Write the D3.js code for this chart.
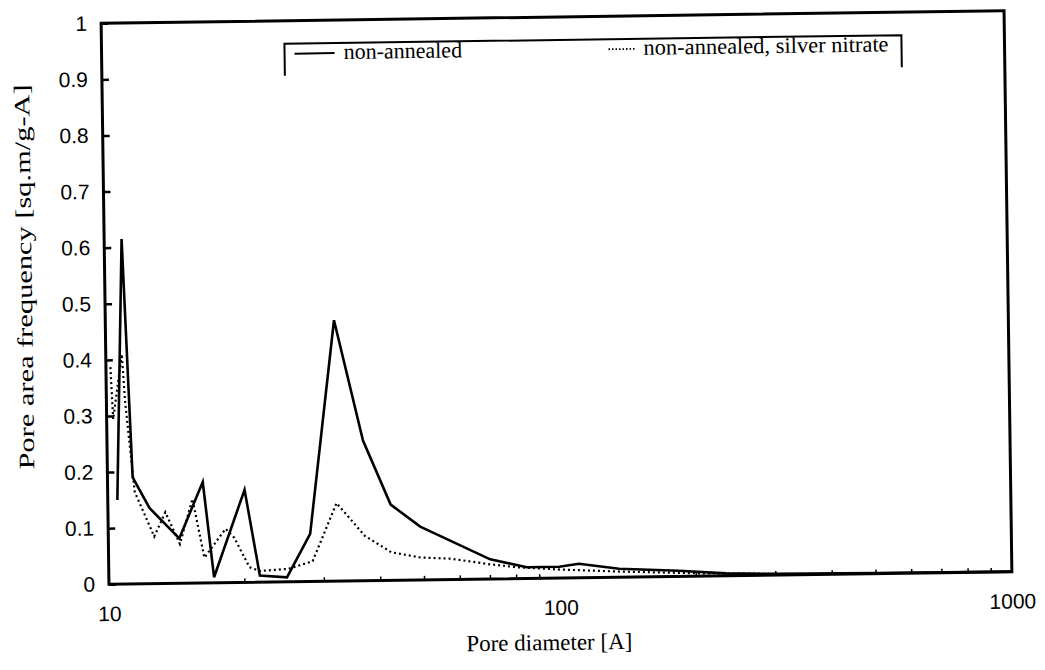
<!DOCTYPE html>
<html>
<head>
<meta charset="utf-8">
<script src="https://cdn.jsdelivr.net/npm/d3@7/dist/d3.min.js"></script>
<style>
  html, body { margin: 0; padding: 0; background: #fff; }
  svg { display: block; }
</style>
</head>
<body>
<svg id="chart" width="1045" height="670"></svg>
<script>
// Pore area frequency vs pore diameter (log axis)
const diamAnnealed = [10.5, 10.93, 11.37, 12.36, 14.36, 16.25, 17.1, 20.1, 21.6, 24.8, 28.0, 32.1, 36.9, 42.3, 49.1, 70, 84.3, 99.5, 110, 135, 183, 233, 300, 500, 1000];
const freqAnnealed = [0.15, 0.615, 0.19, 0.135, 0.08, 0.18, 0.01, 0.165, 0.012, 0.008, 0.085, 0.465, 0.25, 0.135, 0.095, 0.035, 0.02, 0.02, 0.025, 0.015, 0.01, 0.004, 0.002, 0.001, 0.0];

const diamSilver = [10.23, 10.34, 10.85, 11.0, 11.48, 12.64, 13.4, 14.4, 15.4, 16.3, 18.2, 19.0, 20.5, 21.6, 25.0, 28.3, 32.1, 37.0, 42.3, 49.1, 57.4, 70, 80.6, 100, 135, 200, 300];
const freqSilver = [0.387, 0.294, 0.41, 0.325, 0.164, 0.084, 0.127, 0.07, 0.15, 0.045, 0.096, 0.08, 0.027, 0.02, 0.023, 0.036, 0.139, 0.08, 0.05, 0.04, 0.037, 0.026, 0.02, 0.015, 0.01, 0.005, 0.002];

const yTickValues = [0, 0.1, 0.2, 0.3, 0.4, 0.5, 0.6, 0.7, 0.8, 0.9, 1];
const xTickValues = [10, 100, 1000];
const xMinorTicks = [20, 30, 40, 50, 60, 70, 80, 90, 200, 300, 400, 500, 600, 700, 800, 900];

const legendLabels = ["non-annealed", "non-annealed, silver nitrate"];

const plotL = 105, plotR = 1008, plotT = 17, plotB = 578;
const cx = (plotL + plotR) / 2, cy = (plotT + plotB) / 2;

const svg = d3.select("#chart");
const g = svg.append("g").attr("transform", `rotate(-0.8, ${cx}, ${cy})`);

const x = d3.scaleLog().domain([10, 1000]).range([plotL, plotR]);
const y = d3.scaleLinear().domain([0, 1]).range([plotB, plotT]);

// y ticks (inward) and labels
const yAxis = d3.axisLeft(y).tickValues(yTickValues).tickSizeInner(-7).tickSizeOuter(0)
  .tickPadding(14).tickFormat(d => String(+d.toFixed(1)));
const yg = g.append("g").attr("transform", `translate(${plotL},0)`).call(yAxis);
yg.select(".domain").remove();
yg.selectAll(".tick line").attr("stroke", "#000").attr("stroke-width", 2.5);
yg.selectAll(".tick text").attr("font-family", "'Liberation Sans', Arial, sans-serif")
  .attr("font-size", 21).attr("fill", "#000");

// x axis: labels at decades, small minor ticks inward
const xAxis = d3.axisBottom(x).tickValues(xTickValues).tickSize(0).tickPadding(22)
  .tickFormat(d3.format("d"));
const xg = g.append("g").attr("transform", `translate(0,${plotB})`).call(xAxis);
xg.select(".domain").remove();
xg.selectAll(".tick text").attr("font-family", "'Liberation Sans', Arial, sans-serif")
  .attr("font-size", 21).attr("fill", "#000");
g.append("g").selectAll("line").data(xMinorTicks).join("line")
  .attr("x1", d => x(d)).attr("x2", d => x(d))
  .attr("y1", plotB).attr("y2", plotB - 4)
  .attr("stroke", "#000").attr("stroke-width", 1.5);

// data lines
const line = d3.line().x(d => x(d[0])).y(d => y(d[1]));
g.append("path")
  .datum(d3.zip(diamSilver, freqSilver))
  .attr("d", line).attr("fill", "none").attr("stroke", "#000")
  .attr("stroke-width", 2.2).attr("stroke-dasharray", "2,3");
g.append("path")
  .datum(d3.zip(diamAnnealed, freqAnnealed))
  .attr("d", line).attr("fill", "none").attr("stroke", "#000")
  .attr("stroke-width", 2.6).attr("stroke-linejoin", "miter");

// frame
g.append("rect").attr("x", plotL).attr("y", plotT)
  .attr("width", plotR - plotL).attr("height", plotB - plotT)
  .attr("fill", "none").attr("stroke", "#000").attr("stroke-width", 3);

// legend
const lg = g.append("g");
const lgLeft = 288, lgRight = 905, lgTop = 40, lgBottom = 72;
lg.append("path")
  .attr("d", `M${lgLeft},${lgBottom}V${lgTop}H${lgRight}V${lgBottom}`)
  .attr("fill", "none").attr("stroke", "#000").attr("stroke-width", 2);
const legendY = 50;
lg.append("line").attr("x1", 298).attr("x2", 338).attr("y1", legendY).attr("y2", legendY)
  .attr("stroke", "#000").attr("stroke-width", 2);
lg.append("text").attr("x", 347).attr("y", legendY + 6).text(legendLabels[0]);
lg.append("line").attr("x1", 612).attr("x2", 640).attr("y1", legendY).attr("y2", legendY)
  .attr("stroke", "#000").attr("stroke-width", 1.8).attr("stroke-dasharray", "1.5,2");
lg.append("text").attr("x", 647).attr("y", legendY + 6)
  .attr("textLength", 245).attr("lengthAdjust", "spacingAndGlyphs").text(legendLabels[1]);
lg.selectAll("text").attr("font-family", "'Liberation Serif', 'Times New Roman', serif")
  .attr("font-size", 22).attr("fill", "#000");

// axis titles
g.append("text").attr("x", cx - 12).attr("y", 650).attr("text-anchor", "middle")
  .attr("font-family", "'Liberation Serif', 'Times New Roman', serif")
  .attr("font-size", 23).attr("fill", "#000").text("Pore diameter [A]");
g.append("text")
  .attr("transform", `translate(32,${cy - 28}) rotate(-90)`)
  .attr("text-anchor", "middle")
  .attr("font-family", "'Liberation Serif', 'Times New Roman', serif")
  .attr("font-size", 22).attr("fill", "#000")
  .attr("textLength", 385).attr("lengthAdjust", "spacingAndGlyphs")
  .text("Pore area frequency [sq.m/g-A]");
</script>
</body>
</html>
